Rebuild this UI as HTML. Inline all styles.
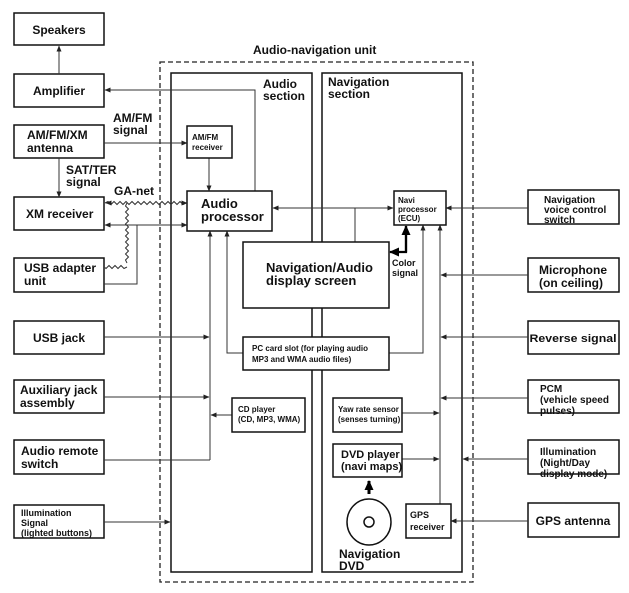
<!DOCTYPE html>
<html><head><meta charset="utf-8"><style>
html,body{margin:0;padding:0;background:#fff;}
svg{display:block;font-family:"Liberation Sans",Arial,sans-serif;font-weight:bold;}
</style></head><body>
<svg width="629" height="593" viewBox="0 0 629 593" xmlns="http://www.w3.org/2000/svg">
<defs>
<marker id="a" markerWidth="6" markerHeight="6" refX="5.5" refY="3" orient="auto" markerUnits="userSpaceOnUse"><path d="M0,0.5 L6,3 L0,5.5 Z" fill="#222"/></marker>
<marker id="as" markerWidth="6" markerHeight="6" refX="0.5" refY="3" orient="auto" markerUnits="userSpaceOnUse"><path d="M6,0.5 L0,3 L6,5.5 Z" fill="#222"/></marker>
<marker id="ab" markerWidth="10" markerHeight="10" refX="9" refY="5" orient="auto" markerUnits="userSpaceOnUse"><path d="M0,0.5 L10,5 L0,9.5 Z" fill="#000"/></marker>
</defs>
<g fill="none" stroke="#111" stroke-width="1.5">
<rect x="14" y="13" width="90" height="32"/>
<rect x="14" y="74" width="90" height="33"/>
<rect x="14" y="125" width="90" height="33"/>
<rect x="14" y="197" width="90" height="33"/>
<rect x="14" y="258" width="90" height="34"/>
<rect x="14" y="321" width="90" height="33"/>
<rect x="14" y="380" width="90" height="33"/>
<rect x="14" y="440" width="90" height="34"/>
<rect x="14" y="505" width="90" height="33"/>
<rect x="528" y="190" width="91" height="34"/>
<rect x="528" y="258" width="91" height="34"/>
<rect x="528" y="321" width="91" height="33"/>
<rect x="528" y="380" width="91" height="33"/>
<rect x="528" y="440" width="91" height="34"/>
<rect x="528" y="503" width="91" height="34"/>
<rect x="171" y="73" width="141" height="499"/>
<rect x="322" y="73" width="140" height="499"/>
</g>
<rect x="160" y="62" width="313" height="520" fill="none" stroke="#222" stroke-width="1.3" stroke-dasharray="5,3"/>
<g fill="none" stroke="#333" stroke-width="1">
<line x1="59" y1="74" x2="59" y2="46" marker-end="url(#a)"/>
<polyline points="255,191 255,90 105,90" marker-end="url(#a)"/>
<line x1="104" y1="143" x2="187" y2="143" marker-end="url(#a)"/>
<line x1="209" y1="158" x2="209" y2="191" marker-end="url(#a)"/>
<line x1="59" y1="158" x2="59" y2="197" marker-end="url(#a)"/>
<line x1="105" y1="225" x2="187" y2="225" marker-start="url(#as)" marker-end="url(#a)"/>
<polyline points="137,225 137,284 104,284"/>
<line x1="210" y1="460" x2="210" y2="231" marker-end="url(#a)"/>
<polyline points="104,460 210,460"/>
<line x1="104" y1="337" x2="209" y2="337" marker-end="url(#a)"/>
<line x1="104" y1="397" x2="209" y2="397" marker-end="url(#a)"/>
<line x1="232" y1="415" x2="211" y2="415" marker-end="url(#a)"/>
<line x1="104" y1="522" x2="170" y2="522" marker-end="url(#a)"/>
<polyline points="243,353 227,353 227,231" marker-end="url(#a)"/>
<polyline points="389,353 423,353 423,225" marker-end="url(#a)"/>
<line x1="273" y1="208" x2="393" y2="208" marker-start="url(#as)" marker-end="url(#a)"/>
<line x1="355" y1="208" x2="355" y2="242"/>
<line x1="528" y1="208" x2="446" y2="208" marker-end="url(#a)"/>
<line x1="440" y1="504" x2="440" y2="225" marker-end="url(#a)"/>
<line x1="528" y1="275" x2="441" y2="275" marker-end="url(#a)"/>
<line x1="528" y1="337" x2="441" y2="337" marker-end="url(#a)"/>
<line x1="528" y1="398" x2="441" y2="398" marker-end="url(#a)"/>
<line x1="528" y1="459" x2="463" y2="459" marker-end="url(#a)"/>
<line x1="528" y1="521" x2="451" y2="521" marker-end="url(#a)"/>
<line x1="402" y1="413" x2="439" y2="413" marker-end="url(#a)"/>
<line x1="402" y1="459" x2="439" y2="459" marker-end="url(#a)"/>
<path d="M105,203 l3,-1.5 l3,3 l3,-3 l3,3 l3,-3 l3,3 l3,-3 l3,3 l3,-3 l3,3 l3,-3 l3,3 l3,-3 l3,3 l3,-3 l3,3 l3,-3 l3,3 l3,-3 l3,3 l3,-3 l3,3 l3,-3 l3,3 l3,-3 l3,3 l3,-1.5"/>
<line x1="183" y1="203" x2="187" y2="203" marker-end="url(#a)"/>
<line x1="110" y1="203" x2="106" y2="203" marker-end="url(#a)"/>
<path d="M127,203 l-1.5,3 l3,3 l-3,3 l3,3 l-3,3 l3,3 l-3,3 l3,3 l-3,3 l3,3 l-3,3 l3,3 l-3,3 l3,3 l-3,3 l3,3 l-3,3 l3,3 l-3,3 l1.5,3 M127,267 l-3,1.5 l-3,-3 l-3,3 l-3,-3 l-3,3 l-3,-3 l-3,3 l-1,-1"/>
</g>
<polyline points="406,226 406,252 390,252" fill="none" stroke="#000" stroke-width="2.2" marker-end="url(#ab)"/>
<line x1="406" y1="252" x2="406" y2="226" stroke="#000" stroke-width="2.2" marker-end="url(#ab)"/>
<line x1="369" y1="494" x2="369" y2="481" stroke="#000" stroke-width="3" marker-end="url(#ab)"/>
<g fill="#fff" stroke="#111" stroke-width="1.5">
<rect x="187" y="126" width="45" height="32"/>
<rect x="187" y="191" width="85" height="40"/>
<rect x="243" y="242" width="146" height="66"/>
<rect x="394" y="191" width="52" height="34"/>
<rect x="243" y="337" width="146" height="33"/>
<rect x="232" y="398" width="73" height="34"/>
<rect x="333" y="398" width="69" height="34"/>
<rect x="333" y="444" width="69" height="33"/>
<rect x="406" y="504" width="45" height="34"/>
<ellipse cx="369" cy="522" rx="22" ry="23"/>
<circle cx="369" cy="522" r="5"/>
</g>
<g fill="#111" font-size="12">
<text x="59" y="34" text-anchor="middle">Speakers</text>
<text x="59" y="95" text-anchor="middle">Amplifier</text>
<text x="27" y="139">AM/FM/XM</text><text x="27" y="152">antenna</text>
<text x="26" y="218">XM receiver</text>
<text x="24" y="272">USB adapter</text><text x="24" y="285">unit</text>
<text x="59" y="342" text-anchor="middle">USB jack</text>
<text x="20" y="394">Auxiliary jack</text><text x="20" y="407">assembly</text>
<text x="21" y="455">Audio remote</text><text x="21" y="468">switch</text>
<text x="113" y="122">AM/FM</text><text x="113" y="134">signal</text>
<text x="66" y="174">SAT/TER</text><text x="66" y="186">signal</text>
<text x="114" y="195">GA-net</text>
<text x="253" y="54">Audio-navigation unit</text>
<text x="263" y="88">Audio</text><text x="263" y="100">section</text>
<text x="328" y="86">Navigation</text><text x="328" y="98">section</text>
<text x="201" y="208" font-size="13">Audio</text><text x="201" y="221" font-size="13">processor</text>
<text x="266" y="272" font-size="13">Navigation/Audio</text><text x="266" y="285" font-size="13">display screen</text>
<text x="544" y="203" font-size="10">Navigation</text><text x="544" y="213" font-size="10">voice control</text><text x="544" y="223" font-size="10">switch</text>
<text x="539" y="274">Microphone</text><text x="539" y="287">(on ceiling)</text>
<text x="573" y="342" font-size="11" text-anchor="middle" textLength="87" lengthAdjust="spacingAndGlyphs">Reverse signal</text>
<text x="540" y="392" font-size="10">PCM</text><text x="540" y="403" font-size="10">(vehicle speed</text><text x="540" y="414" font-size="10">pulses)</text>
<text x="540" y="455" font-size="10">Illumination</text><text x="540" y="466" font-size="10">(Night/Day</text><text x="540" y="477" font-size="10">display mode)</text>
<text x="573" y="525" text-anchor="middle">GPS antenna</text>
<text x="341" y="458" font-size="11">DVD player</text><text x="341" y="470" font-size="11">(navi maps)</text>
<text x="339" y="558">Navigation</text><text x="339" y="570">DVD</text>
<g font-size="9">
<text x="21" y="516">Illumination</text><text x="21" y="526">Signal</text><text x="21" y="536">(lighted buttons)</text>
<text x="410" y="518">GPS</text><text x="410" y="530">receiver</text>
<text x="392" y="266">Color</text><text x="392" y="276">signal</text>
</g>
<g font-size="8">
<text x="192" y="140">AM/FM</text><text x="192" y="150">receiver</text>
<text x="398" y="203">Navi</text><text x="398" y="212">processor</text><text x="398" y="221">(ECU)</text>
<text x="252" y="351">PC card slot (for playing audio</text><text x="252" y="362">MP3 and WMA audio files)</text>
<text x="238" y="412">CD player</text><text x="238" y="422">(CD, MP3, WMA)</text>
<text x="338" y="412">Yaw rate sensor</text><text x="338" y="422">(senses turning)</text>
</g>
</g>
</svg>
</body></html>
